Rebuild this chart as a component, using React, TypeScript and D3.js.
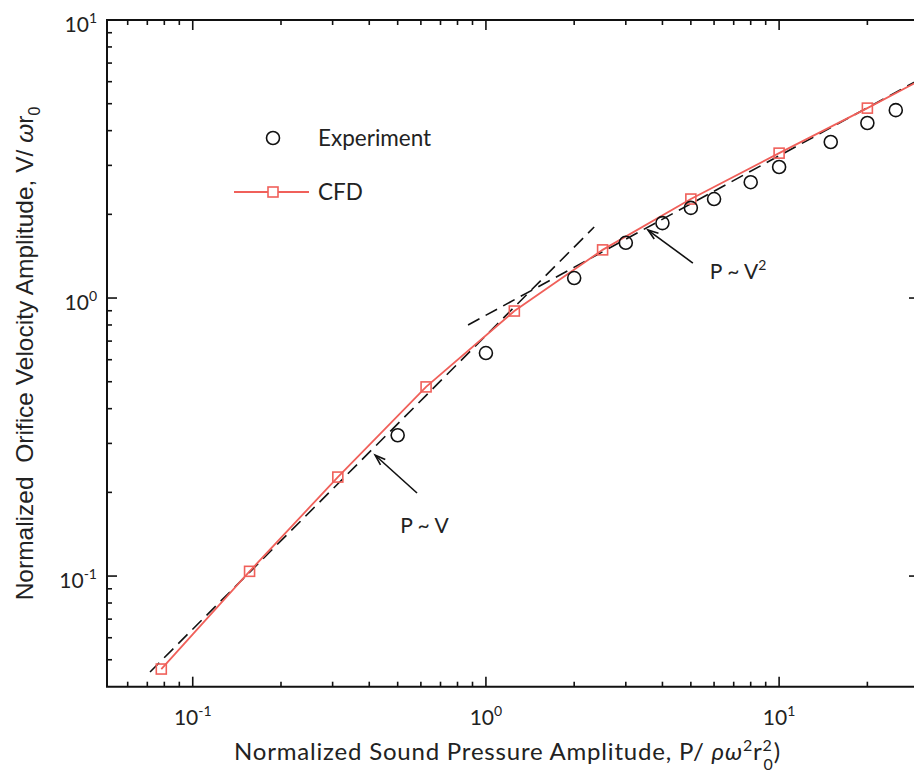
import React from "react";
import * as d3 from "d3";

// ---- data ----
const cfdP = [0.078125, 0.15625, 0.3125, 0.625, 1.25, 2.5, 5, 10, 20, 40];
const cfdV = [0.0463, 0.104, 0.227, 0.479, 0.898, 1.49, 2.27, 3.32, 4.82, 7.1];
const expP = [0.5, 1, 2, 3, 4, 5, 6, 8, 10, 15, 20, 25];
const expV = [0.321, 0.634, 1.18, 1.58, 1.86, 2.11, 2.27, 2.61, 2.96, 3.64, 4.26, 4.74];
const linFitP = [0.0715, 2.34];
const linFitV = [0.0452, 1.8];
const quadFitP = [0.869, 30];
const quadFitV = [0.8, 6.1];
const xMajorTicks = [0.1, 1, 10];
const xMajorExps = ["-1", "0", "1"];
const yMajorTicks = [0.1, 1, 10];
const yMajorExps = ["-1", "0", "1"];
const legendLabels = ["Experiment", "CFD"];
// annotation arrows: [tailP, tailV, headP, headV]
const arrowLin = [0.582, 0.199, 0.419, 0.272];
const arrowQuad = [5.08, 1.336, 3.57, 1.756];
const labelLinPos = [0.51, 0.143];
const labelQuadPos = [5.8, 1.17];

const W = 914;
const H = 776;
const L = 107;
const R = 919;
const T = 20;
const B = 686.7;

const RED = "#f0605a";
const FONT = "Lato, 'Open Sans', sans-serif";

export default function App() {
  const x = d3.scaleLog().domain([0.051, 30]).range([L, R]);
  const y = d3.scaleLog().domain([0.04, 10]).range([B, T]);

  const minor = (dom: number[]) => {
    const out: number[] = [];
    for (let e = -3; e <= 2; e++) {
      for (let k = 2; k <= 9; k++) {
        const v = k * Math.pow(10, e);
        if (v > dom[0] && v < dom[1]) out.push(v);
      }
    }
    return out;
  };
  const xMinor = minor(x.domain());
  const yMinor = minor(y.domain());

  const line = d3
    .line<[number, number]>()
    .x((d) => x(d[0]))
    .y((d) => y(d[1]));

  const cfdPts: [number, number][] = cfdP.map((p, i) => [p, cfdV[i]]);
  const linPts: [number, number][] = linFitP.map((p, i) => [p, linFitV[i]]);
  const quadPts: [number, number][] = quadFitP.map((p, i) => [p, quadFitV[i]]);

  const arrow = (a: number[]) => {
    const x1 = x(a[0]), y1 = y(a[1]), x2 = x(a[2]), y2 = y(a[3]);
    const ang = Math.atan2(y2 - y1, x2 - x1);
    const len = 11, spread = 0.33;
    const hx1 = x2 - len * Math.cos(ang - spread);
    const hy1 = y2 - len * Math.sin(ang - spread);
    const hx2 = x2 - len * Math.cos(ang + spread);
    const hy2 = y2 - len * Math.sin(ang + spread);
    return (
      <g stroke="#111" strokeWidth={1.6} fill="none">
        <line x1={x1} y1={y1} x2={x2} y2={y2} />
        <path d={`M${hx1},${hy1} L${x2},${y2} L${hx2},${hy2}`} />
      </g>
    );
  };

  const sq = 10;

  return (
    <svg
      width={W}
      height={H}
      style={{ position: "absolute", left: 0, top: 0, background: "#fff" }}
    >
      <defs>
        <clipPath id="plot">
          <rect x={L} y={T} width={R - L} height={B - T} />
        </clipPath>
      </defs>
      <rect x={0} y={0} width={W} height={H} fill="#fff" />

      {/* data */}
      <g clipPath="url(#plot)">
        <path d={line(linPts) || ""} fill="none" stroke="#111" strokeWidth={1.6} strokeDasharray="13 7" />
        <path d={line(quadPts) || ""} fill="none" stroke="#111" strokeWidth={1.6} strokeDasharray="13 7" />
        <path d={line(cfdPts) || ""} fill="none" stroke={RED} strokeWidth={1.8} />
        {cfdPts.map((d, i) => (
          <rect
            key={"s" + i}
            x={x(d[0]) - sq / 2}
            y={y(d[1]) - sq / 2}
            width={sq}
            height={sq}
            fill="none"
            stroke={RED}
            strokeWidth={1.6}
          />
        ))}
        {expP.map((p, i) => (
          <circle key={"c" + i} cx={x(p)} cy={y(expV[i])} r={6.5} fill="none" stroke="#111" strokeWidth={1.6} />
        ))}
      </g>

      {/* axes frame */}
      <g stroke="#111" strokeWidth={2} fill="none">
        <line x1={L} y1={T} x2={L} y2={B} />
        <line x1={L - 1} y1={B} x2={R} y2={B} />
        <line x1={L - 1} y1={T} x2={R} y2={T} />
        <line x1={R} y1={T} x2={R} y2={B} />
      </g>

      {/* ticks */}
      <g stroke="#111" strokeWidth={1.6}>
        {xMajorTicks.map((v) => (
          <g key={"xm" + v}>
            <line x1={x(v)} x2={x(v)} y1={B} y2={B - 10} />
            <line x1={x(v)} x2={x(v)} y1={T} y2={T + 10} />
          </g>
        ))}
        {xMinor.map((v) => (
          <g key={"xn" + v}>
            <line x1={x(v)} x2={x(v)} y1={B} y2={B - 5} />
            <line x1={x(v)} x2={x(v)} y1={T} y2={T + 5} />
          </g>
        ))}
        {yMajorTicks.map((v) => (
          <g key={"ym" + v}>
            <line x1={L} x2={L + 10} y1={y(v)} y2={y(v)} />
            <line x1={R} x2={R - 10} y1={y(v)} y2={y(v)} />
          </g>
        ))}
        {yMinor.map((v) => (
          <g key={"yn" + v}>
            <line x1={L} x2={L + 5} y1={y(v)} y2={y(v)} />
            <line x1={R} x2={R - 5} y1={y(v)} y2={y(v)} />
          </g>
        ))}
      </g>

      {/* tick labels */}
      <g fontFamily={FONT} fill="#222">
        {xMajorTicks.map((v, i) => (
          <text key={"xl" + v} x={x(v)} y={725} fontSize={21} textAnchor="middle">
            10
            <tspan dy={-9} fontSize={14}>{xMajorExps[i]}</tspan>
          </text>
        ))}
        {yMajorTicks.map((v, i) => (
          <text key={"yl" + v} x={97} y={y(v) + 12} fontSize={21} textAnchor="end">
            10
            <tspan dy={-9} fontSize={14}>{yMajorExps[i]}</tspan>
          </text>
        ))}
      </g>

      {/* axis titles */}
      <text
        x={(233 + 782) / 2}
        y={760}
        fontFamily={FONT}
        fontSize={24}
        letterSpacing={0.8}
        textAnchor="middle"
        fill="#222"
        style={{ whiteSpace: "pre" }}
      >
        {"Normalized Sound Pressure Amplitude, P/ "}
        <tspan fontStyle="italic">ρω</tspan>
        <tspan dy={-9} fontSize={16}>2</tspan>
        <tspan dy={9}>r</tspan>
        <tspan dy={-9} fontSize={16}>2</tspan>
        <tspan dx={-9} dy={19} fontSize={16}>0</tspan>
        <tspan dy={-10}>)</tspan>
      </text>
      <text
        transform={`translate(33, ${(100 + 607) / 2}) rotate(-90)`}
        fontFamily="'Liberation Sans', Arial, sans-serif"
        fontSize={24.5}
        textAnchor="middle"
        fill="#222"
        style={{ whiteSpace: "pre" }}
      >
        {"Normalized  Orifice Velocity Amplitude, V/ "}
        <tspan fontStyle="italic">ω</tspan>
        r
        <tspan dy={7} fontSize={16}>0</tspan>
      </text>

      {/* legend */}
      <g fontFamily={FONT} fontSize={22.5} fill="#222">
        <circle cx={273} cy={138} r={6.5} fill="none" stroke="#111" strokeWidth={1.6} />
        <text x={318} y={146}>{legendLabels[0]}</text>
        <line x1={234} x2={309} y1={192} y2={192} stroke={RED} strokeWidth={1.8} />
        <rect x={273 - sq / 2} y={192 - sq / 2} width={sq} height={sq} fill="#fff" stroke={RED} strokeWidth={1.6} />
        <text x={318} y={200}>{legendLabels[1]}</text>
      </g>

      {/* annotations */}
      {arrow(arrowLin)}
      {arrow(arrowQuad)}
      <text x={x(labelLinPos[0])} y={y(labelLinPos[1])} fontFamily={FONT} fontSize={21} fill="#222" style={{ whiteSpace: "pre" }}>
        {"P ~ V"}
      </text>
      <text x={x(labelQuadPos[0])} y={y(labelQuadPos[1])} fontFamily={FONT} fontSize={21} fill="#222" style={{ whiteSpace: "pre" }}>
        {"P ~ V"}
        <tspan dy={-9} fontSize={14}>2</tspan>
      </text>
    </svg>
  );
}
